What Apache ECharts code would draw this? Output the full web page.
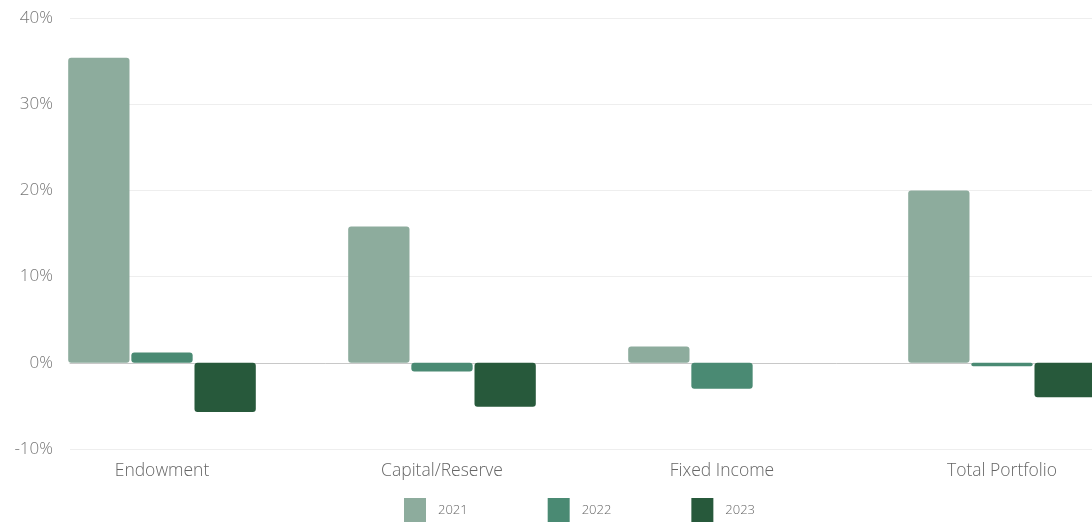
<!DOCTYPE html>
<html>
<head>
<meta charset="utf-8">
<script src="https://cdn.jsdelivr.net/npm/echarts@6/dist/echarts.min.js"></script>
<style>
  html, body { margin: 0; padding: 0; background: #fff; }
  #chart { width: 1092px; height: 529px; }
</style>
</head>
<body>
<div id="chart"></div>
<script>
// Annual returns by portfolio (percent)
const categories = ['Endowment', 'Capital/Reserve', 'Fixed Income', 'Total Portfolio'];
const years = ['2021', '2022', '2023'];
const returns2021 = [35.4, 15.8, 1.9, 20.0];
const returns2022 = [1.2, -1.0, -3.0, -0.4];
const returns2023 = [-5.7, -5.1, 0.0, -4.0];
const yTicks = { min: -10, max: 40, step: 10 };

const colors = ['#8dac9d', '#4a8a73', '#27593b'];
const seriesValues = [returns2021, returns2022, returns2023];
const font = '"Open Sans", "Noto Sans", sans-serif';

const chart = echarts.init(document.getElementById('chart'));
chart.setOption({
  animation: false,
  textStyle: { fontFamily: font },
  grid: [
    // grid holding the value scale and gridlines
    { left: 70, right: 0, top: 18, bottom: 80 },
    // grid holding the bars; it runs past the right edge of the canvas
    { left: 22, width: 1120, top: 18, bottom: 80, outerBoundsMode: 'none', containLabel: false }
  ],
  xAxis: [
    {
      gridIndex: 0, type: 'category', data: [''],
      axisLine: { show: true, onZero: true, lineStyle: { color: '#c8c8c8', width: 1 } },
      axisTick: { show: false }, axisLabel: { show: false }, splitLine: { show: false }
    },
    {
      gridIndex: 1, type: 'category', data: categories,
      axisLine: { show: false, onZero: false }, axisTick: { show: false },
      axisLabel: { color: '#666', fontSize: 17.5, fontWeight: 300, margin: 13, fontFamily: font }
    }
  ],
  yAxis: [
    {
      gridIndex: 0, type: 'value', min: yTicks.min, max: yTicks.max, interval: yTicks.step,
      axisLine: { show: false }, axisTick: { show: false },
      axisLabel: { formatter: '{value}%', color: '#777', fontSize: 17, fontWeight: 300, margin: 17, fontFamily: font },
      splitLine: { lineStyle: { color: '#eeeeee', width: 1 } }
    },
    {
      gridIndex: 1, type: 'value', min: yTicks.min, max: yTicks.max, interval: yTicks.step,
      show: false, splitLine: { show: false }
    }
  ],
  legend: {
    left: 399, top: 493,
    itemWidth: 22, itemHeight: 24, itemGap: 80,
    icon: 'rect',
    textStyle: { color: '#666', fontSize: 13, fontWeight: 300, fontFamily: font, padding: [0, 0, 0, 7] },
    data: years
  },
  series: years.map((y, i) => ({
    name: y,
    type: 'bar',
    xAxisIndex: 1,
    yAxisIndex: 1,
    data: seriesValues[i],
    barCategoryGap: '33%',
    barGap: '3%',
    itemStyle: { color: colors[i], borderRadius: 3 }
  }))
});
</script>
</body>
</html>
